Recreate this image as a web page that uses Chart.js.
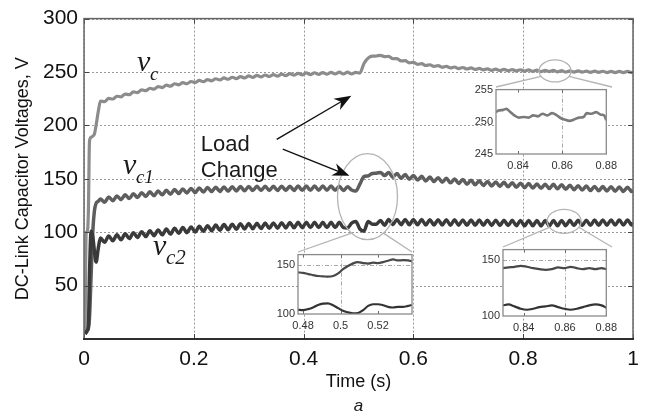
<!DOCTYPE html>
<html>
<head>
<meta charset="utf-8">
<script src="https://cdn.jsdelivr.net/npm/chart.js@4.4.0/dist/chart.umd.min.js"></script>
<style>
html, body { margin: 0; padding: 0; background: #fff; }
#wrap { position: relative; width: 650px; height: 419px; }
#wrap canvas { position: absolute; }
</style>
</head>
<body>
<div id="wrap">
<canvas id="main" width="650" height="419" style="left:0;top:0"></canvas>
<canvas id="ins1"></canvas>
<canvas id="ins2"></canvas>
<canvas id="ins3"></canvas>
</div>
<script>
// ---- main plot data ----
var xTicks = [0, 0.2, 0.4, 0.6, 0.8, 1];
var yTicks = [50, 100, 150, 200, 250, 300];

var startT = [0.002, 0.004, 0.006, 0.008, 0.010, 0.013, 0.016, 0.019, 0.022, 0.026];
var vcStart = [5, 100, 100, 120, 185, 189, 190, 192, 200, 213];
var vc1Start = [5, 6, 8, 10, 20, 60, 100, 120, 127, 129];
var vc2Start = [5, 6, 8, 12, 60, 101, 96, 82, 72, 85];

// after start-up the traces are sampled every 7.5 ms from 0.03 s, last point at 1 s
var gridStart = 0.03, gridStep = 0.0075, gridCount = 130;

var vcMain = [
  222.8, 222.2, 225.3, 224.7, 227.3, 226.7, 229.3, 228.7, 231.3, 230.7,
  233.3, 232.5, 234.8, 234, 236.3, 235.4, 237.7, 236.7, 239, 238,
  240.1, 239, 241.1, 240, 242.1, 240.9, 242.9, 241.7, 243.7, 242.5,
  244.5, 243.2, 245.1, 243.8, 245.7, 244.4, 246.3, 245, 246.8, 245.4,
  247.2, 245.8, 247.6, 246.2, 248, 246.6, 248.4, 247, 248.8, 247.4,
  249.1, 247.6, 249.3, 247.8, 249.5, 248, 249.7, 248.2, 249.8, 248.2,
  249.8, 248.2, 249.6, 249, 258, 263, 264.8, 265, 265.6, 264.4,
  264.6, 262.4, 262.6, 260.4, 260.6, 258.6, 259.1, 257.2, 257.8, 256.1,
  256.8, 255.2, 256, 254.4, 255.3, 253.8, 254.7, 253.2, 254.2, 252.8,
  253.8, 252.4, 253.4, 252, 253, 251.6, 252.7, 251.4, 252.5, 251.2,
  252.3, 251, 252.1, 250.8, 251.9, 250.6, 251.7, 250.4, 251.6, 250.4,
  251.5, 250.2, 251.3, 250, 251.1, 249.9, 251, 249.8, 250.9, 249.7,
  250.8, 249.6, 250.7, 249.5, 250.6, 249.4, 250.6, 249.4, 250.6, 249.4,
  250
];
var vc1Main = [
  131, 128, 133, 129.5, 134, 130.5, 135, 131.5, 136, 132.5,
  137, 133.4, 137.8, 134.2, 138.6, 135, 139.3, 135.6, 139.9, 136.2,
  140.5, 136.8, 141, 137.2, 141.4, 137.6, 141.8, 138, 142.1, 138.2,
  142.3, 138.4, 142.5, 138.6, 142.7, 138.8, 142.9, 139, 143, 139,
  143, 139, 143, 139, 143.1, 139.1, 143.1, 139.1, 143.2, 139.2,
  143.2, 139.2, 143.3, 139.3, 143.3, 139.3, 143.2, 139.2, 143, 139,
  142.5, 139.5, 138.5, 145, 152, 152.7, 155, 155.3, 156, 153,
  156, 151.5, 155, 150.5, 154, 149.6, 153.2, 148.8, 152.4, 148,
  151.7, 147.4, 151.1, 146.8, 150.5, 146.2, 149.9, 145.6, 149.3, 145,
  148.7, 144.4, 148.1, 143.8, 147.5, 143.3, 147.1, 142.9, 146.7, 142.5,
  146.3, 142.1, 145.9, 141.7, 145.5, 141.3, 145.2, 141.1, 145, 140.9,
  144.8, 140.6, 144.4, 140.2, 144, 139.8, 143.6, 139.4, 143.2, 139,
  142.9, 138.8, 142.7, 138.6, 142.5, 138.4, 142.3, 138.2, 142.1, 138,
  140
];
var vc2Main = [
  94.5, 90.5, 96.5, 92, 97.5, 93, 98.5, 94, 99.5, 95,
  100.5, 95.9, 101.3, 96.7, 102.1, 97.5, 102.9, 98.3, 103.7, 99,
  104.3, 99.6, 104.9, 100.2, 105.5, 100.8, 106.1, 101.4, 106.7, 101.9,
  107.1, 102.3, 107.5, 102.7, 107.9, 103, 108.1, 103.2, 108.3, 103.4,
  108.5, 103.6, 108.7, 103.8, 108.9, 104, 109.1, 104.1, 109.2, 104.2,
  109.3, 104.3, 109.3, 104.3, 109.3, 104.3, 109.3, 104.3, 109.3, 104.3,
  104, 108.5, 110, 103, 101, 110, 107.5, 107.5, 111, 106.5,
  112, 107, 112, 107, 111.9, 106.9, 111.9, 106.9, 111.8, 106.8,
  111.7, 106.7, 111.7, 106.7, 111.6, 106.6, 111.6, 106.6, 111.5, 106.5,
  111.5, 106.5, 111.5, 106.5, 111.3, 106.3, 111.3, 106.3, 111.2, 106.2,
  111.1, 106.1, 111, 106, 111, 106, 110.9, 105.9, 110.9, 105.9,
  110.9, 106.1, 111, 106.1, 111.1, 106.2, 111.2, 106.3, 111.3, 106.4,
  111.4, 106.5, 111.5, 106.6, 111.5, 106.7, 111.5, 106.7, 111.5, 106.7,
  109
];

// ---- inset data ----
var in1T = [0.83, 0.8311, 0.8333, 0.8347, 0.8361, 0.8383, 0.8404, 0.8426, 0.8447, 0.8469, 0.849, 0.8511, 0.8533, 0.8554,
  0.8576, 0.8597, 0.8611, 0.8633, 0.8654, 0.8676, 0.8697, 0.8711, 0.8733, 0.8754, 0.8776, 0.879, 0.88];
var in1Vc = [251.5, 251.75, 251.85, 252, 251.65, 251, 250.65, 250.75, 250.65, 251, 250.85, 251.25, 251, 251.35,
  251, 250.5, 250.35, 250.15, 250.35, 250.65, 250.75, 251.35, 251.25, 251.5, 251.1, 251, 250.25];
var in1XTicks = [0.84, 0.86, 0.88];
var in1YTicks = [245, 250, 255];

var in2T = [0.4773, 0.48, 0.4827, 0.4853, 0.488, 0.4907, 0.4933, 0.496, 0.4987, 0.5013, 0.504, 0.5067,
  0.5093, 0.512, 0.5147, 0.5173, 0.52, 0.5227, 0.5253, 0.528, 0.5307, 0.5333, 0.536, 0.5381];
var in2Vc1 = [142.7, 142.3, 141, 140, 139, 138.7, 138.3, 139, 141.7, 146, 149.3, 152,
  153.3, 152.3, 151.7, 152.7, 152.3, 153.3, 154.7, 156, 155, 155.3, 155, 154];
var in2Vc2 = [104.3, 104, 105, 106.7, 109.3, 110.7, 111, 109, 106, 103.3, 101.7, 100.6,
  101, 104, 108.3, 110, 110, 109, 107.3, 106.7, 107.3, 107.3, 108.3, 109.3];
var in2XTicks = [0.48, 0.5, 0.52];
var in2YTicks = [100, 150];

var in3T = [0.83, 0.8326, 0.8356, 0.8386, 0.8416, 0.8446, 0.8476, 0.8506, 0.8536, 0.8567, 0.8597, 0.8627,
  0.8657, 0.8687, 0.8717, 0.8747, 0.8777, 0.88];
var in3Vc1 = [142.9, 143.5, 144.1, 145, 144.1, 142.9, 142, 141.4, 142, 143.5, 142.9, 144.1,
  142.9, 142, 142.9, 142, 142.9, 142];
var in3Vc2 = [109.5, 110.4, 108.6, 106.5, 105.6, 106.5, 108, 108.6, 109.5, 108, 106.5, 105.6,
  106.5, 108, 109.5, 110.4, 109.5, 107.4];
var in3XTicks = [0.84, 0.86, 0.88];
var in3YTicks = [100, 150];

// ---- build point lists ----
var mainT = startT.slice();
for (var i = 0; i < gridCount; i++) mainT.push(+(gridStart + i * gridStep).toFixed(4));
mainT.push(1);

function pts(ts, vs) {
  var out = [];
  for (var i = 0; i < ts.length; i++) out.push({ x: ts[i], y: vs[i] });
  return out;
}

var colVc = '#8c8c8c', colVc1 = '#5e5e5e', colVc2 = '#3a3a3a';
var sans = '"Liberation Sans", Arial, sans-serif';
var serif = '"Liberation Serif", "Times New Roman", serif';

// inset boxes (plot frames) in page pixels
var box1 = { x: 496, y: 87, w: 116, h: 67 };
var box2 = { x: 298, y: 252, w: 114, h: 62 };
var box3 = { x: 503, y: 247, w: 109, h: 69 };

var callouts = [
  { c: [0.858, 251], rx: 16, ry: 11, a1: 150, a2: 30, box: box1 },
  { c: [0.5164, 133.3], rx: 30, ry: 43, a1: 122, a2: 58, box: box2 },
  { c: [0.8745, 110.2], rx: 17, ry: 12, a1: 150, a2: 30, box: box3 }
];
var arrows = [
  [[0.351, 187], [0.487, 227.8]],
  [[0.362, 177.8], [0.4836, 152.8]]
];

function arrow(c, x0, y0, x1, y1) {
  var ang = Math.atan2(y1 - y0, x1 - x0), L = 17, W = 6.5;
  c.beginPath(); c.moveTo(x0, y0); c.lineTo(x1 - Math.cos(ang) * 10, y1 - Math.sin(ang) * 10); c.stroke();
  c.save(); c.translate(x1, y1); c.rotate(ang);
  c.beginPath(); c.moveTo(0, 0); c.lineTo(-L, -W); c.lineTo(-L * 0.7, 0); c.lineTo(-L, W); c.closePath(); c.fill();
  c.restore();
}

function vlabel(c, x, y, sub, subSize) {
  c.font = 'italic 30px ' + serif;
  c.fillText('v', x, y);
  c.font = 'italic ' + subSize + 'px ' + serif;
  c.fillText(sub, x + 13, y + 9);
}

var annot = {
  id: 'annot',
  beforeDatasetsDraw: function (chart) {
    // dotted grid
    var c = chart.ctx, xs = chart.scales.x, ys = chart.scales.y, a = chart.chartArea;
    c.save();
    c.strokeStyle = '#9a9a9a'; c.lineWidth = 1; c.setLineDash([2, 2]);
    xTicks.forEach(function (t) {
      var x = Math.round(xs.getPixelForValue(t)) + 0.5;
      c.beginPath(); c.moveTo(x, a.top); c.lineTo(x, a.bottom); c.stroke();
    });
    yTicks.forEach(function (v) {
      var y = Math.round(ys.getPixelForValue(v)) + 0.5;
      c.beginPath(); c.moveTo(a.left, y); c.lineTo(a.right, y); c.stroke();
    });
    c.restore();
  },
  afterDatasetsDraw: function (chart) {
    var c = chart.ctx, xs = chart.scales.x, ys = chart.scales.y, a = chart.chartArea;
    c.save();
    // inward tick marks
    c.strokeStyle = '#444'; c.lineWidth = 1;
    xTicks.forEach(function (t) {
      var x = Math.round(xs.getPixelForValue(t)) + 0.5;
      c.beginPath(); c.moveTo(x, a.bottom); c.lineTo(x, a.bottom - 5); c.moveTo(x, a.top); c.lineTo(x, a.top + 5); c.stroke();
    });
    yTicks.forEach(function (v) {
      var y = Math.round(ys.getPixelForValue(v)) + 0.5;
      c.beginPath(); c.moveTo(a.left, y); c.lineTo(a.left + 5, y); c.moveTo(a.right, y); c.lineTo(a.right - 5, y); c.stroke();
    });
    // frame
    c.strokeStyle = '#666'; c.lineWidth = 1.5;
    c.strokeRect(a.left, a.top, a.right - a.left, a.bottom - a.top);
    c.strokeStyle = '#111';
    c.beginPath(); c.moveTo(a.left - 1, a.bottom); c.lineTo(a.right + 1, a.bottom); c.stroke();

    // zoom callouts
    c.strokeStyle = '#b4b4b4'; c.lineWidth = 1.3;
    callouts.forEach(function (k) {
      var cx = xs.getPixelForValue(k.c[0]), cy = ys.getPixelForValue(k.c[1]);
      c.beginPath(); c.ellipse(cx, cy, k.rx, k.ry, 0, 0, Math.PI * 2); c.stroke();
      var r1 = k.a1 * Math.PI / 180, r2 = k.a2 * Math.PI / 180;
      c.beginPath();
      c.moveTo(cx + k.rx * Math.cos(r1), cy + k.ry * Math.sin(r1)); c.lineTo(k.box.x, k.box.y);
      c.moveTo(cx + k.rx * Math.cos(r2), cy + k.ry * Math.sin(r2)); c.lineTo(k.box.x + k.box.w, k.box.y);
      c.stroke();
    });

    // arrows
    c.strokeStyle = '#111'; c.fillStyle = '#111'; c.lineWidth = 1.4;
    arrows.forEach(function (r) {
      arrow(c, xs.getPixelForValue(r[0][0]), ys.getPixelForValue(r[0][1]),
        xs.getPixelForValue(r[1][0]), ys.getPixelForValue(r[1][1]));
    });

    // text labels
    c.fillStyle = '#1a1a1a'; c.textAlign = 'left'; c.textBaseline = 'alphabetic';
    vlabel(c, xs.getPixelForValue(0.0964), ys.getPixelForValue(250.9), 'c', 19);
    vlabel(c, xs.getPixelForValue(0.0709), ys.getPixelForValue(154.6), 'c1', 19);
    vlabel(c, xs.getPixelForValue(0.1255), ys.getPixelForValue(78.7), 'c2', 21);
    c.font = '22px ' + sans;
    c.fillText('Load', xs.getPixelForValue(0.2127), ys.getPixelForValue(175.9));
    c.fillText('Change', xs.getPixelForValue(0.2127), ys.getPixelForValue(151.9));
    // panel letter
    c.font = 'italic 17px ' + sans; c.textAlign = 'center';
    c.fillText('a', (a.left + a.right) / 2, 411);
    c.restore();
  }
};

new Chart(document.getElementById('main'), {
  type: 'line',
  data: {
    datasets: [
      { label: 'vc2', data: pts(mainT, vc2Start.concat(vc2Main)), borderColor: colVc2, borderWidth: 3.5, order: 0 },
      { label: 'vc1', data: pts(mainT, vc1Start.concat(vc1Main)), borderColor: colVc1, borderWidth: 3.5, order: 1 },
      { label: 'vc', data: pts(mainT, vcStart.concat(vcMain)), borderColor: colVc, borderWidth: 3.2, order: 2 }
    ]
  },
  options: {
    responsive: false,
    animation: false,
    layout: { padding: { left: 8, right: 17, top: 15, bottom: 22 } },
    plugins: { legend: { display: false }, tooltip: { enabled: false } },
    elements: { point: { radius: 0 }, line: { cubicInterpolationMode: 'monotone', fill: false } },
    scales: {
      x: {
        type: 'linear', min: 0, max: 1,
        afterBuildTicks: function (s) { s.ticks = xTicks.map(function (v) { return { value: v }; }); },
        afterFit: function (s) { s.height = 58; },
        ticks: { padding: 8, color: '#111', font: { family: sans, size: 21 }, maxRotation: 0,
          callback: function (v) { return String(v); } },
        grid: { display: false, drawTicks: false },
        border: { display: false },
        title: { display: true, text: 'Time (s)', color: '#111', font: { family: sans, size: 18 }, padding: { top: 4, bottom: 4 } }
      },
      y: {
        min: 0, max: 300,
        afterBuildTicks: function (s) { s.ticks = yTicks.map(function (v) { return { value: v }; }); },
        afterFit: function (s) { s.width = 76; },
        ticks: { padding: 6, color: '#111', font: { family: sans, size: 21 } },
        grid: { display: false, drawTicks: false },
        border: { display: false },
        title: { display: true, text: 'DC-Link Capacitor Voltages, V', color: '#111', font: { family: sans, size: 18 }, padding: { top: 4, bottom: 4 } }
      }
    }
  },
  plugins: [annot]
});

// ---- insets ----
var insetFrame = {
  id: 'insetFrame',
  beforeDatasetsDraw: function (chart) {
    var c = chart.ctx, a = chart.chartArea;
    c.save(); c.fillStyle = '#fff';
    c.fillRect(a.left, a.top, a.right - a.left, a.bottom - a.top);
    // dashed grid only at the middle ticks
    var g = chart.options.plugins.insetFrame;
    c.strokeStyle = '#a8a8a8'; c.lineWidth = 1; c.setLineDash([4, 2, 1, 2]);
    if (g.gx != null) {
      var x = Math.round(chart.scales.x.getPixelForValue(g.gx)) + 0.5;
      c.beginPath(); c.moveTo(x, a.top); c.lineTo(x, a.bottom); c.stroke();
    }
    if (g.gy != null) {
      var y = Math.round(chart.scales.y.getPixelForValue(g.gy)) + 0.5;
      c.beginPath(); c.moveTo(a.left, y); c.lineTo(a.right, y); c.stroke();
    }
    c.restore();
  },
  afterDatasetsDraw: function (chart) {
    var c = chart.ctx, a = chart.chartArea, xs = chart.scales.x;
    c.save();
    c.strokeStyle = '#666'; c.lineWidth = 1;
    xs.ticks.forEach(function (t) {
      var x = Math.round(xs.getPixelForValue(t.value)) + 0.5;
      c.beginPath(); c.moveTo(x, a.bottom); c.lineTo(x, a.bottom - 3); c.moveTo(x, a.top); c.lineTo(x, a.top + 3); c.stroke();
    });
    c.strokeStyle = '#8a8a8a'; c.lineWidth = 1.3;
    c.strokeRect(a.left, a.top, a.right - a.left, a.bottom - a.top);
    c.restore();
  }
};

function makeInset(id, box, xr, xt, yr, yt, grid, sets) {
  var padL = 28, padT = 7, padR = 10, padB = 20;
  var cv = document.getElementById(id);
  cv.width = box.w + padL + padR;
  cv.height = box.h + padT + padB;
  cv.style.left = (box.x - padL) + 'px';
  cv.style.top = (box.y - padT) + 'px';
  var tickFont = { family: sans, size: 11 };
  new Chart(cv, {
    type: 'line',
    data: { datasets: sets },
    options: {
      responsive: false,
      animation: false,
      layout: { padding: { left: 0, right: padR, top: padT, bottom: 0 } },
      plugins: { legend: { display: false }, tooltip: { enabled: false }, insetFrame: grid },
      elements: { point: { radius: 0 }, line: { cubicInterpolationMode: 'monotone', fill: false } },
      scales: {
        x: {
          type: 'linear', min: xr[0], max: xr[1],
          afterBuildTicks: function (s) { s.ticks = xt.map(function (v) { return { value: v }; }); },
          afterFit: function (s) { s.height = padB; },
          ticks: { padding: 5, color: '#333', font: tickFont, maxRotation: 0, callback: function (v) { return String(v); } },
          grid: { display: false, drawTicks: false },
          border: { display: false }
        },
        y: {
          min: yr[0], max: yr[1],
          afterBuildTicks: function (s) { s.ticks = yt.map(function (v) { return { value: v }; }); },
          afterFit: function (s) { s.width = padL; },
          ticks: { padding: 3, color: '#333', font: tickFont },
          grid: { display: false, drawTicks: false },
          border: { display: false }
        }
      }
    },
    plugins: [insetFrame]
  });
}

makeInset('ins1', box1, [0.83, 0.88], in1XTicks, [245, 255], in1YTicks, { gx: 0.86, gy: null }, [
  { data: pts(in1T, in1Vc), borderColor: '#7a7a7a', borderWidth: 2.6 }
]);
makeInset('ins2', box2, [0.4773, 0.5381], in2XTicks, [100, 161], in2YTicks, { gx: 0.5, gy: 150 }, [
  { data: pts(in2T, in2Vc1), borderColor: '#484848', borderWidth: 2.2 },
  { data: pts(in2T, in2Vc2), borderColor: '#333', borderWidth: 2.2 }
]);
makeInset('ins3', box3, [0.83, 0.88], in3XTicks, [100, 159.5], in3YTicks, { gx: 0.86, gy: 150 }, [
  { data: pts(in3T, in3Vc1), borderColor: '#484848', borderWidth: 2.2 },
  { data: pts(in3T, in3Vc2), borderColor: '#333', borderWidth: 2.2 }
]);
</script>
</body>
</html>
